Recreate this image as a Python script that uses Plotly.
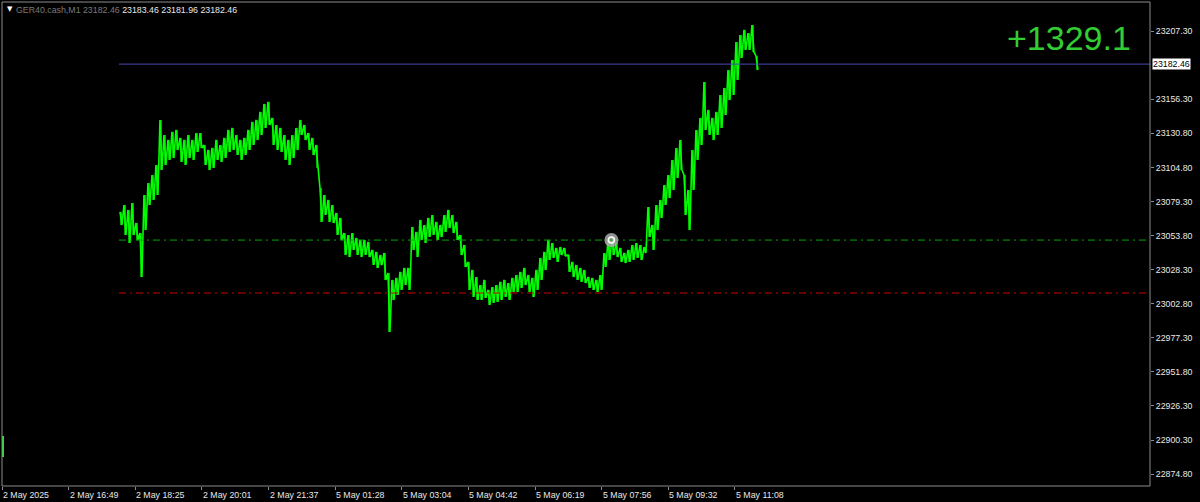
import plotly.graph_objects as go

# ---------------- data ----------------
symbol_text = "GER40.cash,M1 23182.46"
ohlc_text = "23183.46 23181.96 23182.46"
time_labels = ["2 May 2025", "2 May 16:49", "2 May 18:25", "2 May 20:01", "2 May 21:37",
               "5 May 01:28", "5 May 03:04", "5 May 04:42", "5 May 06:19", "5 May 07:56",
               "5 May 09:32", "5 May 11:08"]
bars_per_label = 96
price_ticks = [23207.30, 23156.30, 23130.80, 23104.80, 23079.30, 23053.80, 23028.30,
               23002.80, 22977.30, 22951.80, 22926.30, 22900.30, 22874.80]
bid_price = 23182.46
green_level = 23050.5
red_level = 23010.8
profit_text = "+1329.1"
event_bar = [878]
event_price = [23050.5]
first_bar = [1.4]
first_bar_high = [22903.6]
first_bar_low = [22887.8]

sample_start_bar = 171.4
bars_per_sample = 5.763

highs = [23071.6, 23076.8, 23073.1, 23078.3, 23063.3, 23055.8, 23084.3, 23093.3, 23099.3, 23106.8,
         23140.6, 23129.3, 23125.6, 23131.6, 23133.1, 23127.1, 23125.6, 23129.3, 23125.6, 23130.8,
         23130.8, 23121.8, 23118.1, 23119.6, 23125.6, 23121.8, 23127.1, 23133.1, 23134.6, 23129.3,
         23125.6, 23127.1, 23133.1, 23139.1, 23140.6, 23146.6, 23152.6, 23154.1, 23142.1, 23136.8,
         23134.6, 23129.3, 23125.6, 23129.3, 23134.6, 23140.6, 23136.8, 23130.8, 23127.1, 23121.8,
         23089.6, 23084.3, 23080.6, 23076.8, 23070.8, 23067.1, 23055.8, 23054.3, 23055.8, 23052.1,
         23050.6, 23050.6, 23049.1, 23043.1, 23041.6, 23039.3, 23040.8, 23025.8, 23020.6, 23022.1,
         23026.6, 23029.6, 23029.6, 23060.3, 23056.6, 23065.6, 23061.8, 23067.1, 23069.3, 23064.1,
         23061.8, 23069.3, 23073.1, 23069.3, 23064.1, 23054.3, 23046.8, 23034.1, 23028.1, 23022.8,
         23016.8, 23020.6, 23013.1, 23015.3, 23016.8, 23019.1, 23020.6, 23018.3, 23022.1, 23024.3,
         23026.6, 23029.6, 23024.3, 23022.1, 23028.1, 23037.1, 23041.6, 23050.6, 23048.3, 23044.6,
         23045.3, 23044.6, 23039.3, 23034.1, 23031.8, 23029.6, 23028.1, 23022.8, 23022.1, 23020.6,
         23024.3, 23040.8, 23050.6, 23052.8, 23048.3, 23044.6, 23040.8, 23043.1, 23046.8, 23048.3,
         23046.8, 23045.3, 23075.3, 23061.8, 23076.8, 23080.6, 23091.8, 23099.3, 23110.6, 23119.6,
         23125.6, 23099.3, 23088.1, 23118.1, 23133.1, 23142.1, 23169.1, 23148.1, 23142.1, 23146.6,
         23159.3, 23164.6, 23178.1, 23185.6, 23199.1, 23204.3, 23208.1, 23205.8, 23211.8, 23188.6]

lows = [23061.8, 23054.3, 23048.3, 23054.3, 23050.6, 23022.8, 23058.1, 23076.8, 23080.6, 23084.3,
        23103.1, 23106.8, 23110.6, 23112.1, 23118.1, 23109.1, 23106.8, 23112.1, 23110.6, 23116.6,
        23119.6, 23106.8, 23103.1, 23104.6, 23110.6, 23109.1, 23112.1, 23116.6, 23118.1, 23114.3,
        23110.6, 23114.3, 23118.1, 23121.8, 23125.6, 23129.3, 23134.6, 23136.8, 23121.8, 23118.1,
        23116.6, 23110.6, 23106.8, 23112.1, 23118.1, 23129.3, 23125.6, 23118.1, 23114.3, 23104.6,
        23064.1, 23069.3, 23064.1, 23063.3, 23054.3, 23050.6, 23039.3, 23037.8, 23043.1, 23039.3,
        23037.8, 23039.3, 23037.8, 23031.8, 23029.6, 23031.8, 23020.6, 22981.6, 23005.6, 23009.3,
        23013.1, 23016.8, 23013.1, 23043.1, 23037.8, 23050.6, 23048.3, 23052.8, 23054.3, 23050.6,
        23052.8, 23056.6, 23059.6, 23055.8, 23050.6, 23039.3, 23030.3, 23013.1, 23007.8, 23005.6,
        23005.6, 23007.1, 23001.8, 23003.3, 23004.1, 23005.6, 23007.8, 23005.6, 23011.6, 23011.6,
        23014.6, 23016.8, 23011.6, 23007.8, 23013.1, 23020.6, 23028.1, 23035.6, 23037.1, 23034.1,
        23039.3, 23038.6, 23026.6, 23022.8, 23020.6, 23019.1, 23018.3, 23014.6, 23013.1, 23011.6,
        23013.1, 23030.3, 23035.6, 23039.3, 23037.8, 23034.1, 23033.3, 23034.1, 23035.6, 23037.1,
        23035.6, 23040.8, 23052.8, 23043.1, 23058.1, 23067.1, 23076.8, 23082.1, 23088.1, 23097.1,
        23103.1, 23069.3, 23058.1, 23088.1, 23110.6, 23121.8, 23133.1, 23129.3, 23125.6, 23129.3,
        23134.6, 23144.3, 23155.6, 23159.3, 23170.6, 23187.1, 23193.1, 23193.1, 23191.6, 23178.1]

# ---------------- styling ----------------
BG = "#000000"
FRAME = "#8C8C8C"
TEXT = "#E8E8E8"
BAR_UP = "#00FF00"
BAR_DN = "#00A800"
FONT = "Liberation Sans"
X_MAX = 1654
Y_RANGE = [22866.05, 23229.05]

xs = [sample_start_bar + i * bars_per_sample for i in range(len(highs))]
tick_bars = [i * bars_per_label for i in range(len(time_labels))]
line_start = xs[0] - bars_per_sample / 2

# zig-zag path through each sample's high and low (bar-chart texture)
q = bars_per_sample / 4
zz_x, zz_y = [], []
for x, h, l in zip(xs, highs, lows):
    zz_x += [x - q, x + q]
    zz_y += [h, l]

fig = go.Figure()

fig.add_trace(go.Bar(x=first_bar, base=first_bar_low,
                     y=[first_bar_high[0] - first_bar_low[0]],
                     width=3, marker=dict(color=BAR_UP, line=dict(width=0)),
                     hoverinfo="skip"))
# vertical high-low strokes
fig.add_trace(go.Bar(x=xs, base=lows, y=[h - l for h, l in zip(highs, lows)],
                     width=bars_per_sample * 0.35,
                     marker=dict(color=BAR_DN, line=dict(width=0)), hoverinfo="skip"))
fig.add_trace(go.Scatter(x=zz_x, y=zz_y, mode="lines", line=dict(color=BAR_UP, width=1.6),
                         hoverinfo="skip"))

fig.add_trace(go.Scatter(x=[line_start, X_MAX], y=[bid_price, bid_price], mode="lines",
                         line=dict(color="#4B4BB4", width=1), hoverinfo="skip"))
fig.add_trace(go.Scatter(x=[line_start, X_MAX], y=[green_level, green_level], mode="lines",
                         line=dict(color="#00A800", width=1, dash="7px,4px,2px,4px"),
                         hoverinfo="skip"))
fig.add_trace(go.Scatter(x=[line_start, X_MAX], y=[red_level, red_level], mode="lines",
                         line=dict(color="#D00000", width=1, dash="7px,4px,2px,4px"),
                         hoverinfo="skip"))

fig.add_trace(go.Scatter(x=event_bar, y=event_price, mode="markers",
                         marker=dict(symbol="circle", size=14, color="rgba(170,170,170,0.85)",
                                     line=dict(width=0)), hoverinfo="skip"))
fig.add_trace(go.Scatter(x=event_bar, y=event_price, mode="markers",
                         marker=dict(symbol="circle-open", size=6, color="#FFFFFF",
                                     line=dict(width=1.5, color="#FFFFFF")), hoverinfo="skip"))
fig.add_trace(go.Scatter(x=event_bar, y=event_price, mode="markers",
                         marker=dict(symbol="circle", size=2, color="#00C000"), hoverinfo="skip"))

annotations = []
for tb, lab in zip(tick_bars, time_labels):
    annotations.append(dict(x=tb, xref="x", y=0, yref="paper", text=lab, showarrow=False,
                            xanchor="left", yanchor="top", xshift=-1, yshift=-2,
                            font=dict(family=FONT, size=8.8, color=TEXT)))

annotations.append(dict(x=1, xref="paper", y=bid_price, yref="y", text=f"{bid_price:.2f}",
                        showarrow=False, xanchor="left", yanchor="middle", xshift=2,
                        bgcolor="#FFFFFF", borderpad=0,
                        font=dict(family=FONT, size=8.8, color="#000000")))

annotations.append(dict(x=1, xref="paper", y=0.9246, yref="paper", text=profit_text,
                        showarrow=False, xanchor="right", yanchor="middle", xshift=-17,
                        font=dict(family=FONT, size=34, color="#32CD32")))

annotations.append(dict(x=0, xref="paper", y=1, yref="paper", text="▼", showarrow=False,
                        xanchor="left", yanchor="top", xshift=3, yshift=-1,
                        font=dict(family="DejaVu Sans", size=7, color="#FFFFFF")))
annotations.append(dict(x=0, xref="paper", y=1, yref="paper",
                        text=f"<span style='color:#7A7A7A'>{symbol_text}</span> {ohlc_text}",
                        showarrow=False, xanchor="left", yanchor="top", xshift=12, yshift=-1,
                        font=dict(family=FONT, size=8.8, color=TEXT)))

fig.update_layout(
    width=1200, height=502,
    margin=dict(l=2, r=50, t=2, b=16),
    paper_bgcolor=BG, plot_bgcolor=BG,
    showlegend=False, barmode="overlay", bargap=0,
    annotations=annotations,
    shapes=[dict(type="rect", xref="paper", yref="paper", x0=0, x1=1, y0=0, y1=1,
                 line=dict(color=FRAME, width=1), layer="above")],
    xaxis=dict(range=[0, X_MAX], showgrid=False, zeroline=False, showticklabels=False,
               tickvals=tick_bars, ticks="outside", ticklen=3, tickcolor=FRAME,
               showline=False, fixedrange=True),
    yaxis=dict(range=Y_RANGE, side="right", showgrid=False, zeroline=False,
               tickvals=price_ticks, ticktext=[f"{v:.2f}" for v in price_ticks],
               ticks="outside", ticklen=3, tickcolor=FRAME,
               tickfont=dict(family=FONT, size=8.8, color=TEXT),
               showline=False, fixedrange=True),
)

fig.write_html("out.html", config={"displayModeBar": False},
               post_script="document.body.style.margin='0';document.body.style.overflow='hidden';")
